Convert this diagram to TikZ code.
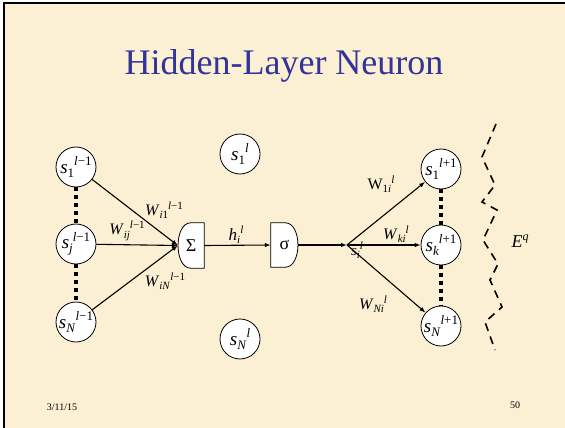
\documentclass[tikz,border=0pt]{standalone}
\usepackage{fontspec}
\setmainfont{Liberation Serif}
\newfontfamily\tms{Liberation Serif}
\usetikzlibrary{arrows.meta,calc}
\definecolor{parch}{RGB}{251,240,212}
\definecolor{titleblue}{RGB}{51,51,153}
% #1 base size, #2 script size, #3 base text, #4 subscript, #5 superscript
\newcommand\lbl[5]{{\tms\fontsize{#1}{#1}\selectfont #3\raisebox{-0.22em}{\fontsize{#2}{#2}\selectfont #4}\raisebox{0.38em}{\fontsize{#2}{#2}\selectfont #5}}}
\tikzset{
  every node/.style={font=\tms},
  neuron/.style={circle,draw,fill=white,line width=0.8pt,minimum size=40pt,inner sep=0pt},
  boxnode/.style={minimum width=26pt,minimum height=45pt,inner sep=0pt,font=\tms\fontsize{18}{18}\selectfont},
  boxline/.style={draw,fill=white,line width=0.8pt},
  arr/.style={line width=1.1pt,-{Latex[length=6pt,width=4.5pt]}},
  dotline/.style={line width=4pt,dash pattern=on 4pt off 4pt},
  zig/.style={line width=1.6pt,dash pattern=on 8pt off 6pt},
  wlab/.style={inner sep=0pt},
}
\begin{document}
\begin{tikzpicture}[x=1pt,y=-1pt]
\useasboundingbox (0,0) rectangle (565,428);
\fill[parch] (0,0) rectangle (565,428);
\fill[white] (0,0) rectangle (565,2.5);
\fill[white] (0,0) rectangle (2.5,428);
\fill[black] (2.5,2.5) rectangle (565,4.5);
\fill[black] (2.5,2.5) rectangle (4.5,428);

% title
\node[titleblue,font=\tms\fontsize{36}{36}\selectfont] (title) at (284,66) {Hidden-Layer Neuron};

% left layer
\node[neuron] (a1) at (76,167) {\lbl{19}{13}{\textit{s}}{1}{\textit{l}−1}};
\node[neuron] (aj) at (76,244) {\lbl{19}{13}{\textit{s}}{\textit{j}}{\textit{l}−1}};
\node[neuron] (aN) at (76,322) {\lbl{19}{13}{\textit{s}}{\textit{N}}{\textit{l}−1}};
\draw[dotline] (a1) -- (aj);
\draw[dotline] (aj) -- (aN);

% middle layer neurons
\node[neuron] (m1) at (240,154) {\lbl{19}{13}{\textit{s}}{1}{\textit{l}}};
\node[neuron] (mN) at (240,339) {\lbl{19}{13}{\textit{s}}{\textit{N}}{\textit{l}}};

% sum box (rounded left)
\node[boxnode] (sum) at (191,245.5) {};
\path[boxline] (sum.north east) -- ($(sum.north west)+(13,0)$)
  .. controls ($(sum.north west)+(-4,0)$) and ($(sum.south west)+(-4,0)$) .. ($(sum.south west)+(13,0)$)
  -- (sum.south east) -- cycle;
\node[boxnode] at (sum.center) {Σ};

% sigma box (rounded right)
\node[boxnode,minimum width=27pt,minimum height=44pt] (sg) at (284.5,245) {};
\path[boxline] (sg.north west) -- ($(sg.north east)+(-13,0)$)
  .. controls ($(sg.north east)+(4,0)$) and ($(sg.south east)+(4,0)$) .. ($(sg.south east)+(-13,0)$)
  -- (sg.south west) -- cycle;
\node[boxnode,minimum width=27pt,minimum height=44pt] at (sg.center) {σ};

% input arrows
\draw[arr] (a1) -- (sum.west);
\draw[arr] (aj) -- (sum.west);
\draw[arr] (aN) -- (sum.west);
\node[wlab] (w1) at (164,210) {\lbl{16}{11}{\textit{W}}{\textit{i}1}{\textit{l}−1}};
\node[wlab] (wj) at (127,231) {\lbl{16}{11}{\textit{W}}{\textit{ij}}{\textit{l}−1}};
\node[wlab] (wN) at (165,281) {\lbl{16}{11}{\textit{W}}{\textit{iN}}{\textit{l}−1}};

% sum -> sigma
\draw[arr] (sum.east) -- (sg.west);
\node[wlab] (h) at (236,235) {\lbl{17}{11}{\textit{h}}{\textit{i}}{\textit{l}}};

% output
\coordinate (J) at (347,245);
\draw[arr] (sg.east) -- (J);
\node[wlab] (si) at (357,250) {\lbl{15}{11}{\textit{s}}{\textit{i}}{\textit{l}}};

% right layer
\node[neuron] (b1) at (441,169) {\lbl{19}{13}{\textit{s}}{1}{\textit{l}+1}};
\node[neuron] (bk) at (441,245) {\lbl{19}{13}{\textit{s}}{\textit{k}}{\textit{l}+1}};
\node[neuron] (bN) at (441,326) {\lbl{19}{13}{\textit{s}}{\textit{N}}{\textit{l}+1}};
\draw[dotline] (b1) -- (bk);
\draw[dotline] (bk) -- (bN);

\draw[arr] (J) -- (b1);
\draw[arr] (J) -- (bk);
\draw[arr] (J) -- (bN);
\node[wlab] (v1) at (381,184) {\lbl{16}{11}{W}{1\textit{i}}{\textit{l}}};
\node[wlab] (vk) at (396,234) {\lbl{16}{11}{\textit{W}}{\textit{ki}}{\textit{l}}};
\node[wlab] (vN) at (373,304) {\lbl{16}{11}{\textit{W}}{\textit{Ni}}{\textit{l}}};

% error boundary
\draw[zig] (496,124) -- (482,157) -- (495,185) -- (482,202) -- (497,210)
  -- (483,240) -- (498,264) -- (490,280) -- (502,307) -- (485,322) -- (495,350);
\node[wlab] (E) at (520,243) {\lbl{18}{12}{\textit{E}}{}{\textit{q}}};

% footer
\node[font=\tms\fontsize{10}{10}\selectfont] (date) at (62,407) {3/11/15};
\node[font=\tms\fontsize{10}{10}\selectfont] (page) at (515,405) {50};
\end{tikzpicture}
\end{document}
